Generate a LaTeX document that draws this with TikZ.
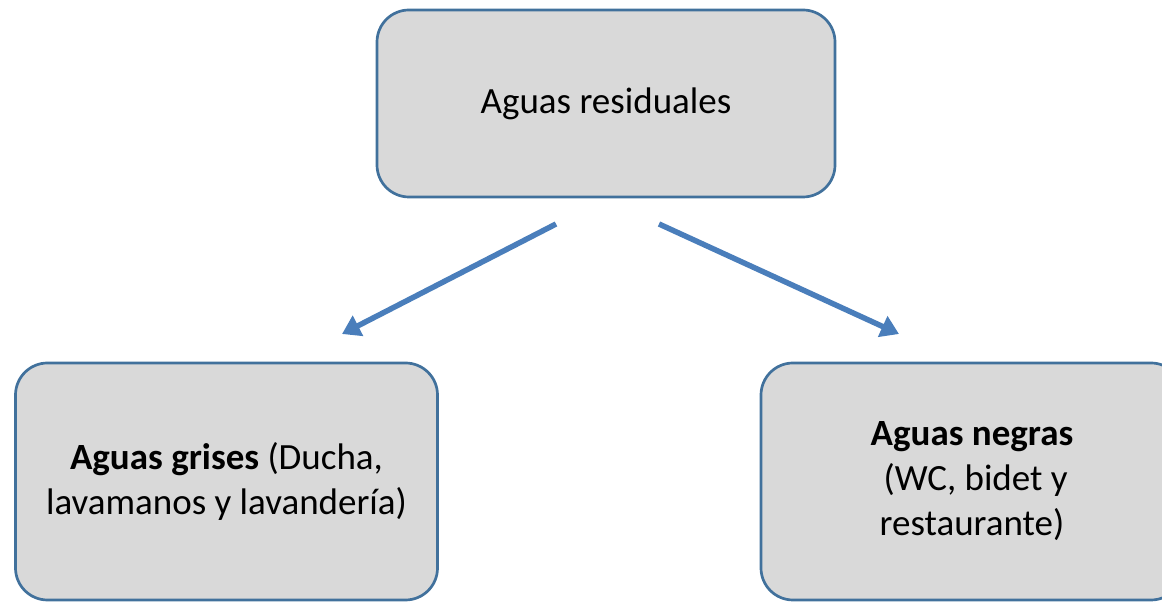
\documentclass[tikz,border=0pt]{standalone}
\usepackage{fontspec}
\setmainfont{Carlito}
\usetikzlibrary{arrows.meta}
\definecolor{boxline}{HTML}{41719C}
\definecolor{boxfill}{HTML}{D9D9D9}
\definecolor{arrowc}{HTML}{4A7EBB}
\tikzset{
  box/.style={draw=boxline, fill=boxfill, line width=2.7pt, rounded corners=32pt,
    align=center, inner sep=0pt, font=\fontsize{37}{45}\selectfont},
  conn/.style={draw=arrowc, line width=5.5pt, -{Triangle[length=18pt,width=22pt]}}
}
\begin{document}
\begin{tikzpicture}[x=1pt,y=1pt]
\clip (0,0) rectangle (1162,602);
\useasboundingbox (0,0) rectangle (1162,602);
\node[box, minimum width=458pt, minimum height=187pt] (top) at (606,498.5) {Aguas residuales};
\node[box, minimum width=422pt, minimum height=237pt] (left) at (226.5,120.5)
  {\textbf{Aguas grises} (Ducha,\\lavamanos y lavandería)};
\node[box, minimum width=422pt, minimum height=237pt] (right) at (972,120.5)
  {\textbf{Aguas negras}\\\hspace*{0.2em}(WC, bidet y\\restaurante)};
\coordinate (l0) at (556,378);
\coordinate (l1) at (342,268);
\coordinate (r0) at (659,378);
\coordinate (r1) at (899,268);
\draw[conn] (l0) -- (l1);
\draw[conn] (r0) -- (r1);
\end{tikzpicture}
\end{document}
